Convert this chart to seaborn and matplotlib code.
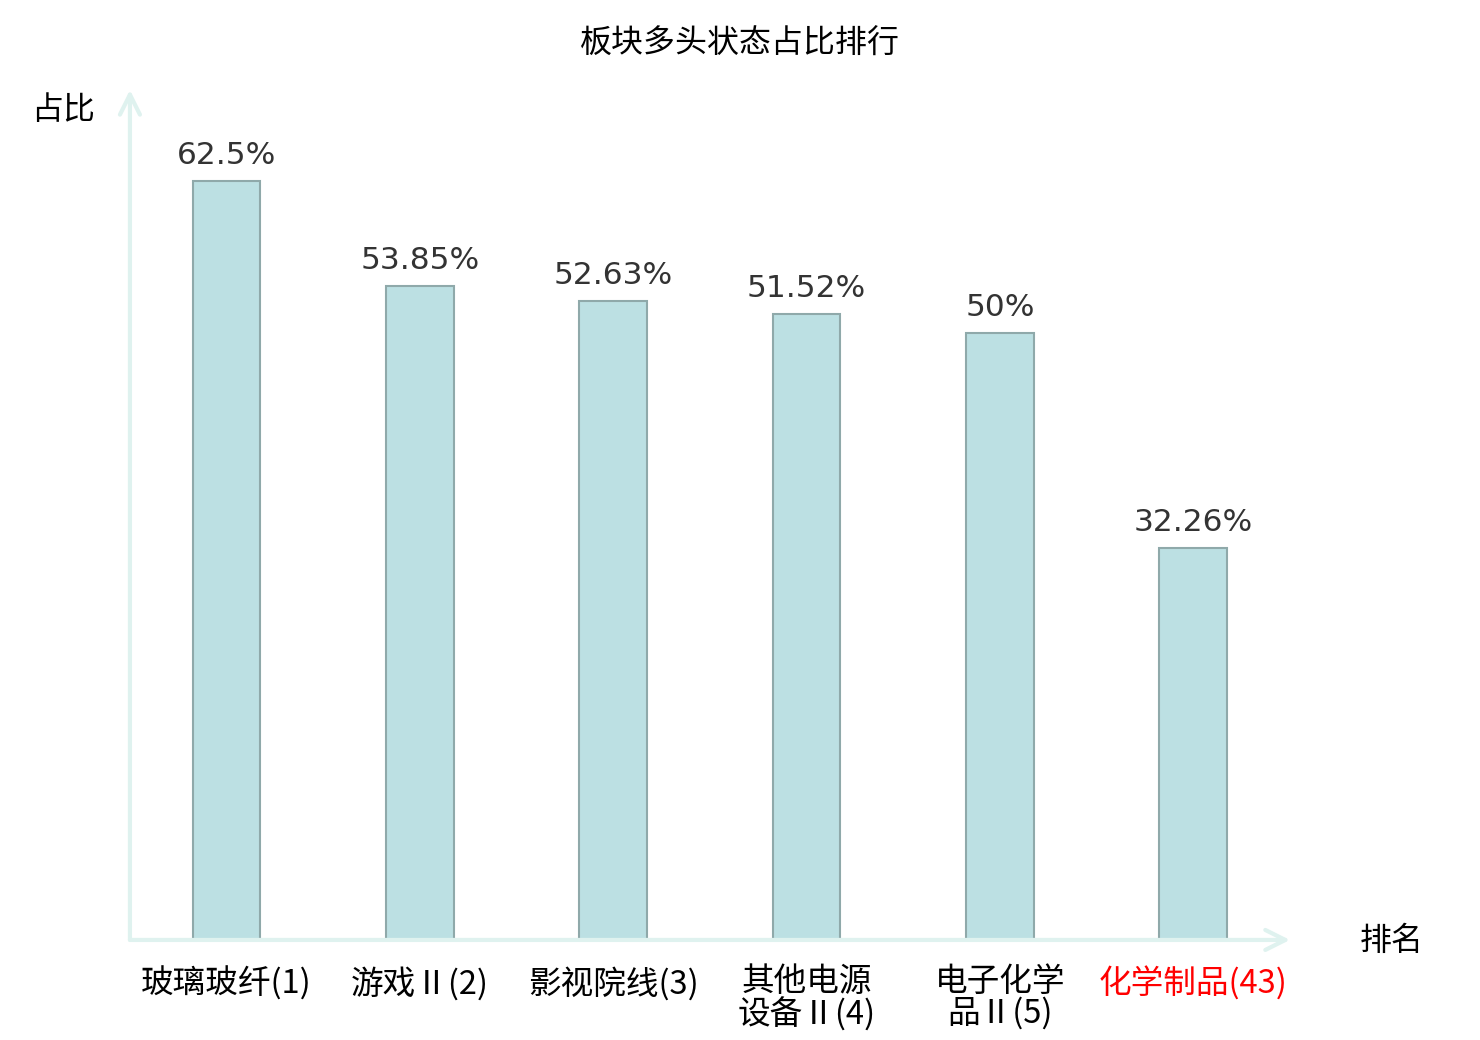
import numpy as np
import pandas as pd
import matplotlib
matplotlib.use("Agg")
import matplotlib.pyplot as plt
import seaborn as sns

# data
sectors = ["玻璃玻纤(1)", "游戏Ⅱ(2)", "影视院线(3)", "其他电源\n设备Ⅱ(4)", "电子化学\n品Ⅱ(5)", "化学制品(43)"]
ratios = [62.5, 53.85, 52.63, 51.52, 50, 32.26]
highlight = "化学制品(43)"

sns.set_theme(style="white")
plt.rcParams["font.family"] = ["Noto Sans CJK SC", "DejaVu Sans"]
plt.rcParams["text.color"] = "black"

df = pd.DataFrame({"sector": sectors, "ratio": ratios})

fig = plt.figure(figsize=(14.8, 10.4), dpi=100)
ax = fig.add_axes([0.0878, 0.0962, 0.7838, 0.8173])

sns.barplot(data=df, x="sector", y="ratio", ax=ax, width=0.35,
            color="#bce0e3", saturation=1, edgecolor="#8fa9aa", linewidth=1.5)

ax.set_xlim(-0.5, 5.5)
ax.set_ylim(0, 70)

# value labels on top of bars
labels = [f"{v:g}%" for v in ratios]
ax.bar_label(ax.containers[0], labels=labels, padding=8, fontsize=22.5,
             color="#333333", family=["DejaVu Sans", "Noto Sans CJK SC"])

# hide default frame, draw arrow axes
for s in ax.spines.values():
    s.set_visible(False)
ax.set_yticks([])
ax.set_xlabel("")
ax.set_ylabel("")
ax.tick_params(axis="x", length=0, pad=19, labelsize=23.5)
for t in ax.get_xticklabels():
    t.set_linespacing(0.95)
    if t.get_text() == highlight:
        t.set_color("red")
    else:
        t.set_color("black")

axis_col = "#dff2ef"
ax.annotate("", xy=(1.0, 0), xytext=(0, 0), xycoords="axes fraction",
            arrowprops=dict(arrowstyle="->,head_length=1.2,head_width=0.6",
                            color=axis_col, lw=3, shrinkA=0, shrinkB=0))
ax.annotate("", xy=(0, 1.0), xytext=(0, 0), xycoords="axes fraction",
            arrowprops=dict(arrowstyle="->,head_length=1.2,head_width=0.6",
                            color=axis_col, lw=3, shrinkA=0, shrinkB=0))

fig.text(1392 / 1480, 1 - 941 / 1040, "排名", fontsize=23, ha="center", va="center")
fig.text(63 / 1480, 1 - 110 / 1040, "占比", fontsize=23, ha="center", va="center")
fig.text(740 / 1480, 1 - 44 / 1040, "板块多头状态占比排行", fontsize=23, ha="center", va="center")

fig.savefig("out.png", dpi=100, facecolor="white")
